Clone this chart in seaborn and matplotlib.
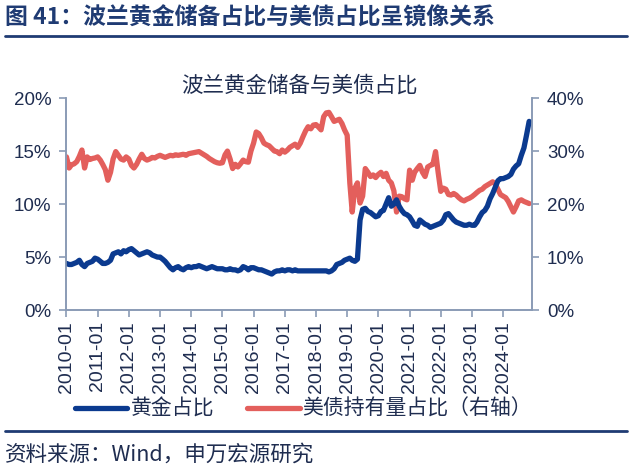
import pandas as pd
import seaborn as sns
import matplotlib.pyplot as plt
import matplotlib.dates as mdates
from matplotlib.ticker import FuncFormatter

# Monthly share of gold in Poland's reserves (%, left axis), 2010-01 .. 2024-11
gold_share = [
    4.4, 4.3, 4.3, 4.4, 4.5, 4.7, 4.3, 4.1, 4.4, 4.5, 4.6, 4.9,   # 2010
    4.8, 4.6, 4.4, 4.4, 4.5, 4.7, 5.3, 5.4, 5.5, 5.3, 5.6, 5.5,   # 2011
    5.7, 5.8, 5.6, 5.4, 5.2, 5.3, 5.4, 5.5, 5.4, 5.2, 5.1, 5.0,   # 2012
    5.0, 4.8, 4.6, 4.3, 4.0, 3.8, 4.0, 4.1, 3.9, 3.8, 4.0, 4.1,   # 2013
    4.0, 4.1, 4.1, 4.2, 4.1, 4.0, 3.9, 4.0, 4.1, 4.0, 3.9, 3.9,   # 2014
    3.9, 3.8, 3.8, 3.9, 3.8, 3.8, 3.7, 3.8, 4.1, 4.0, 3.8, 4.0,   # 2015
    4.0, 3.9, 3.8, 3.8, 3.7, 3.6, 3.5, 3.4, 3.6, 3.7, 3.7, 3.8,   # 2016
    3.7, 3.8, 3.8, 3.7, 3.8, 3.7, 3.7, 3.7, 3.7, 3.7, 3.7, 3.7,   # 2017
    3.7, 3.7, 3.7, 3.7, 3.7, 3.6, 3.7, 3.9, 4.3, 4.4, 4.5, 4.7,   # 2018
    4.8, 4.9, 4.7, 4.6, 4.8, 8.5, 9.5, 9.6, 9.3, 9.2, 9.0, 8.8,   # 2019
    8.9, 9.3, 9.4, 10.0, 10.6, 9.8, 10.0, 10.4, 9.8, 9.4, 9.1, 9.0,  # 2020
    8.8, 8.4, 8.0, 7.9, 8.5, 8.3, 8.1, 8.0, 7.8, 7.9, 8.0, 8.1,   # 2021
    8.2, 8.5, 9.0, 9.1, 8.8, 8.5, 8.3, 8.2, 8.1, 8.0, 8.0, 8.1,   # 2022
    8.0, 8.0, 8.3, 8.8, 9.2, 9.4, 9.8, 10.5, 11.0, 11.6, 12.2, 12.4,  # 2023
    12.4, 12.5, 12.6, 12.8, 13.3, 13.6, 13.8, 14.6, 15.3, 16.5, 17.8,  # 2024
]

# Monthly share of US Treasuries held (%, right axis)
ust_share = [
    28.9, 26.8, 27.4, 27.6, 28.0, 29.0, 30.2, 26.8, 28.9, 28.4, 28.6, 28.7,  # 2010
    28.9, 28.3, 27.5, 26.5, 24.5, 26.0, 28.5, 29.9, 29.2, 28.5, 28.3, 28.9,  # 2011
    28.5, 27.3, 26.8, 27.5, 28.5, 29.4, 28.6, 28.3, 28.5, 28.8, 28.7, 29.0,  # 2012
    29.2, 29.0, 28.8, 29.0, 29.2, 29.1, 29.3, 29.2, 29.3, 29.4, 29.2, 29.5,  # 2013
    29.6, 29.7, 29.8, 29.9, 29.6, 29.3, 29.0, 28.6, 28.3, 28.0, 27.8, 27.7,  # 2014
    27.8, 29.3, 30.0, 28.5, 26.7, 27.5, 27.0, 27.6, 28.3, 28.0, 27.9, 30.0,  # 2015
    31.5, 33.6, 33.3, 32.5, 31.5, 31.2, 31.0, 30.5, 30.0, 29.9, 29.5, 30.2,  # 2016
    29.8, 30.2, 30.7, 31.0, 31.3, 30.7, 31.5, 32.7, 33.8, 34.6, 34.2, 34.9,  # 2017
    35.0, 34.5, 34.0, 36.5, 37.2, 37.3, 36.5, 35.6, 35.8, 36.0, 35.2, 34.0,  # 2018
    33.0, 24.0, 18.5, 23.0, 24.0, 20.2, 21.5, 26.7, 26.0, 25.2, 25.5, 25.0,  # 2019
    25.6, 26.0, 25.2, 25.8, 24.5, 24.0, 22.5, 18.5, 21.5, 21.4, 21.0, 20.8,  # 2020
    26.4, 24.5, 26.0, 26.7, 27.3, 26.0, 25.2, 27.0, 27.3, 27.5, 29.9, 26.0,  # 2021
    22.4, 23.0, 22.8, 21.8, 21.7, 22.0, 21.7, 21.2, 20.8, 20.6, 20.9, 21.1,  # 2022
    21.4, 21.8, 22.2, 22.6, 22.8, 23.3, 23.6, 23.9, 24.2, 23.8, 22.8, 21.8,  # 2023
    21.5, 21.2, 20.5, 19.5, 18.5, 19.5, 20.6, 20.8, 20.5, 20.3, 20.1,        # 2024
]

dates = pd.date_range("2010-01-01", periods=len(gold_share), freq="MS")
df = pd.DataFrame({"date": dates, "gold": gold_share, "ust": ust_share})

navy = "#1F3B73"
text_col = "#1F2D50"
spine_col = "#8A9BB5"
blue = "#0B3A8F"
red = "#E35F5C"

sns.set_style("white")
plt.rcParams["font.family"] = ["Noto Sans CJK SC", "DejaVu Sans"]

fig = plt.figure(figsize=(6.33, 4.67), dpi=100)
ax = fig.add_axes([0.105, 0.336, 0.735, 0.454])
ax2 = ax.twinx()

sns.lineplot(data=df, x="date", y="gold", ax=ax, color=blue, linewidth=3.8, label="黄金占比", legend=False)
sns.lineplot(data=df, x="date", y="ust", ax=ax2, color=red, linewidth=3.8, label="美债持有量占比（右轴）", legend=False)
ax.set_zorder(ax2.get_zorder() + 1)
ax.patch.set_visible(False)

ax.set_xlim(pd.Timestamp("2010-01-01"), pd.Timestamp("2024-12-01"))
ax.set_ylim(0, 20)
ax2.set_ylim(0, 40)
ax.set_yticks([0, 5, 10, 15, 20])
ax2.set_yticks([0, 10, 20, 30, 40])
ax.yaxis.set_major_formatter(FuncFormatter(lambda v, p: f"{v:.0f}%"))
ax2.yaxis.set_major_formatter(FuncFormatter(lambda v, p: f"{v:.0f}%"))
ax.set_xticks(pd.date_range("2010-01-01", "2024-01-01", freq="YS"))
ax.xaxis.set_major_formatter(mdates.DateFormatter("%Y-%m"))
ax.set_xlabel("")
ax.set_ylabel("")
ax2.set_ylabel("")

for a in (ax, ax2):
    for s in a.spines.values():
        s.set_color(spine_col)
        s.set_linewidth(1.2)
    a.spines["top"].set_visible(False)
ax.tick_params(axis="x", rotation=90, labelsize=14, colors=text_col, length=5, width=1.2, color=spine_col, pad=3, direction="out")
ax.tick_params(axis="y", labelsize=13.5, colors=text_col, length=5, width=1.2, color=spine_col, direction="out", pad=6)
ax2.tick_params(axis="y", labelsize=13.5, colors=text_col, length=5, width=1.2, color=spine_col, direction="out", pad=6)
ax.tick_params(axis="x", bottom=True)
ax.tick_params(axis="y", left=True)
ax2.tick_params(axis="y", right=True)
for lab in ax.get_xticklabels() + ax.get_yticklabels() + ax2.get_yticklabels():
    lab.set_family(["Liberation Sans"])

ax.set_title("波兰黄金储备与美债占比", fontsize=15.5, color=text_col, pad=5)

h1, l1 = ax.get_legend_handles_labels()
h2, l2 = ax2.get_legend_handles_labels()
fig.legend(h1 + h2, l1 + l2, loc="center", bbox_to_anchor=(0.48, 0.124), ncol=2,
           frameon=False, fontsize=15, labelcolor=text_col, handlelength=2.5,
           columnspacing=1.6, handletextpad=0.15)

fig.text(0.008, 0.962, "图 41：波兰黄金储备占比与美债占比呈镜像关系", fontsize=16.5,
         fontweight="heavy", color=navy, va="center", ha="left")
fig.add_artist(plt.Line2D([0.008, 0.99], [0.923, 0.923], color=navy, linewidth=2))
fig.add_artist(plt.Line2D([0.008, 0.99], [0.078, 0.078], color=navy, linewidth=2))
fig.text(0.008, 0.027, "资料来源：Wind，申万宏源研究", fontsize=15.5, color=text_col,
         va="center", ha="left")

fig.savefig("out.png", dpi=100)
